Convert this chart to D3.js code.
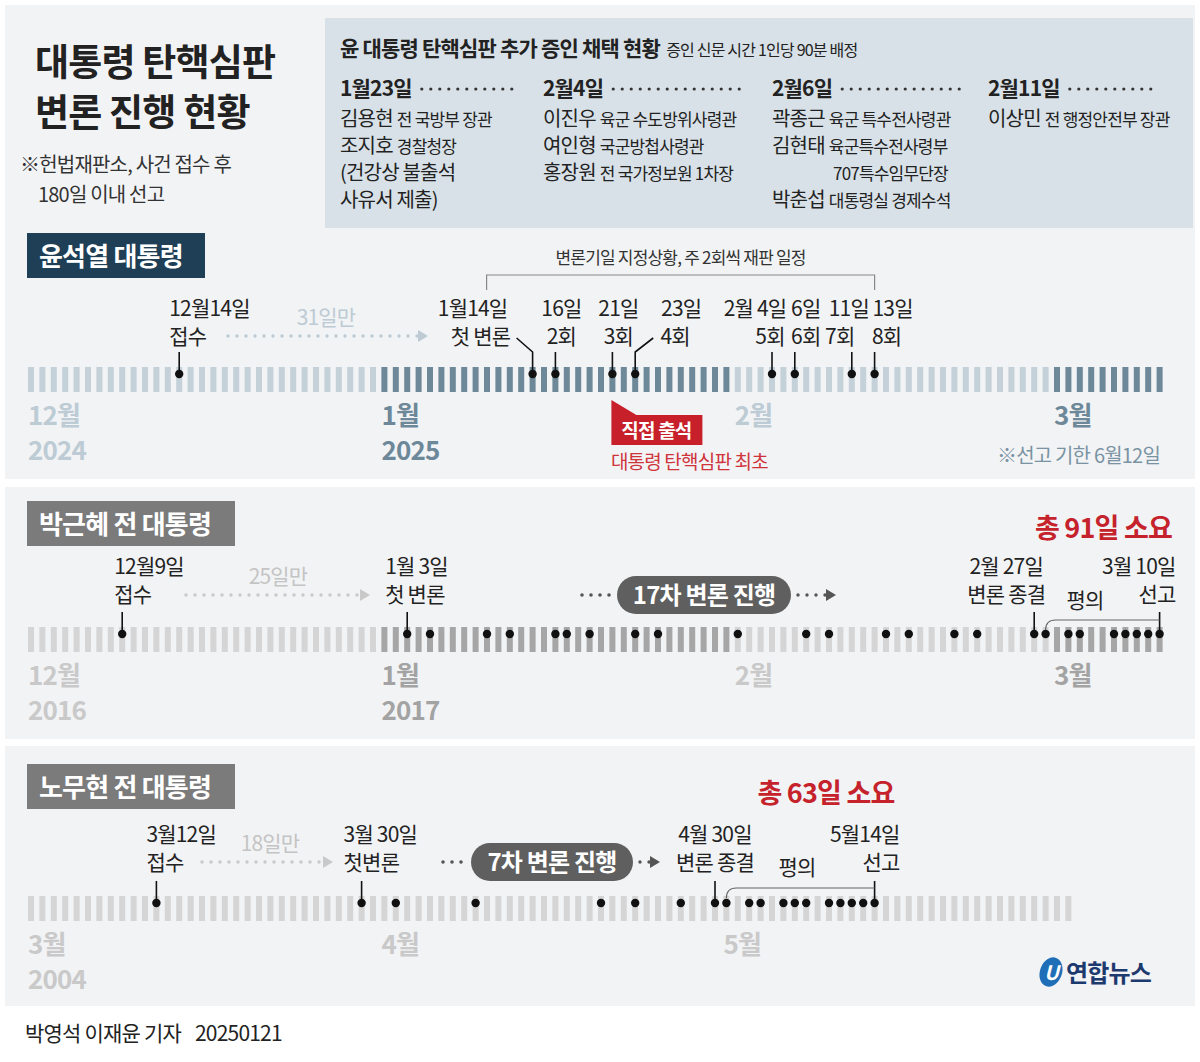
<!DOCTYPE html>
<html><head><meta charset="utf-8">
<script src="https://cdn.jsdelivr.net/npm/d3@7"></script>
<style>body{margin:0;background:#fff}svg{display:block;font-family:"Noto Sans CJK KR","Noto Sans",sans-serif;letter-spacing:-0.8px}</style>
</head><body><svg id="c" width="1200" height="1062"></svg>
<script>
// --- data ---
var yoonRange = ["2024-12-01", "2025-03-11"];
var yoonDots = ["2024-12-14","2025-01-14","2025-01-16","2025-01-21","2025-01-23","2025-02-04","2025-02-06","2025-02-11","2025-02-13"];
var yoonLabels = [
  {d:"2024-12-14", a:"12월14일", b:"접수", dx:-10, start:true},
  {d:"2025-01-14", a:"1월14일", b:"첫 변론", dx:-60, dxb:-52, slant:true},
  {d:"2025-01-16", a:"16일", b:"2회", dx:6},
  {d:"2025-01-21", a:"21일", b:"3회", dx:6},
  {d:"2025-01-23", a:"23일", b:"4회", dx:46, dxb:40, slant:true},
  {d:"2025-02-04", a:"2월 4일", b:"5회", dx:-17, dxb:-2},
  {d:"2025-02-06", a:"6일", b:"6회", dx:11},
  {d:"2025-02-11", a:"11일", b:"7회", dx:-3, dxb:-12},
  {d:"2025-02-13", a:"13일", b:"8회", dx:18, dxb:12}
];
var yoonMonths = [["2024-12-01","12월","2024"],["2025-01-01","1월","2025"],["2025-02-01","2월",""],["2025-03-01","3월",""]];

var parkRange = ["2016-12-01", "2017-03-11"];
var parkDots = ["2016-12-09","2017-01-03","2017-01-05","2017-01-10","2017-01-12","2017-01-16","2017-01-17","2017-01-19","2017-01-23","2017-01-25","2017-02-01","2017-02-07","2017-02-09","2017-02-14","2017-02-16","2017-02-20","2017-02-22","2017-02-27","2017-02-28","2017-03-02","2017-03-03","2017-03-06","2017-03-07","2017-03-08","2017-03-09","2017-03-10"];
var parkMonths = [["2016-12-01","12월","2016"],["2017-01-01","1월","2017"],["2017-02-01","2월",""],["2017-03-01","3월",""]];

var rohRange = ["2004-03-01", "2004-06-01"];
var rohDots = ["2004-03-12","2004-03-30","2004-04-02","2004-04-09","2004-04-20","2004-04-23","2004-04-27","2004-04-30","2004-05-01","2004-05-03","2004-05-04","2004-05-06","2004-05-07","2004-05-08","2004-05-10","2004-05-11","2004-05-12","2004-05-13","2004-05-14"];
var rohMonths = [["2004-03-01","3월","2004"],["2004-04-01","4월",""],["2004-05-01","5월",""]];

var witnessDates = ["1월23일","2월4일","2월6일","2월11일"];
var witnesses = [
  [["김용현","전 국방부 장관"],["조지호","경찰청장"],["(건강상 불출석",""],[" 사유서 제출)",""]],
  [["이진우","육군 수도방위사령관"],["여인형","국군방첩사령관"],["홍장원","전 국가정보원 1차장"]],
  [["곽종근","육군 특수전사령관"],["김현태","육군특수전사령부"],["","707특수임무단장"],["박춘섭","대통령실 경제수석"]],
  [["이상민","전 행정안전부 장관"]]
];

var svg = d3.select("#c");
var parse = d3.timeParse("%Y-%m-%d");
var PX = 11.4;

// backgrounds
svg.append("rect").attr("x",5).attr("y",5).attr("width",1190).attr("height",474).attr("fill","#f2f3f5");
svg.append("rect").attr("x",5).attr("y",487).attr("width",1190).attr("height",252).attr("fill","#f2f3f5");
svg.append("rect").attr("x",5).attr("y",746).attr("width",1190).attr("height",260).attr("fill","#f2f3f5");
svg.append("rect").attr("x",325).attr("y",18).attr("width",868).attr("height",210).attr("fill","#d8e1e7");

// title
svg.append("text").attr("x",35).attr("y",76).attr("font-size",37).attr("font-weight",700).attr("fill","#222").text("대통령 탄핵심판");
svg.append("text").attr("x",35).attr("y",126).attr("font-size",37).attr("font-weight",700).attr("fill","#222").text("변론 진행 현황");
svg.append("text").attr("x",20).attr("y",172).attr("font-size",20).attr("fill","#333").text("※헌법재판소, 사건 접수 후");
svg.append("text").attr("x",38).attr("y",202).attr("font-size",20).attr("fill","#333").text("180일 이내 선고");

// info box
svg.append("text").attr("x",340).attr("y",56).attr("font-size",21).attr("font-weight",700).attr("fill","#222")
  .text("윤 대통령 탄핵심판 추가 증인 채택 현황")
  .append("tspan").attr("dx",6).attr("font-size",16).attr("font-weight",400).text("증인 신문 시간 1인당 90분 배정");
var colX = [340, 543, 772, 988];
witnessDates.forEach(function(d,i){
  var t = svg.append("text").attr("x",colX[i]).attr("y",96).attr("font-size",21).attr("font-weight",700).attr("fill","#222").text(d);
  var w = t.node().getComputedTextLength();
  var end = i < 3 ? colX[i+1] - 28 : 1155;
  d3.range(colX[i]+w+10, end, 9).forEach(function(x){
    svg.append("circle").attr("cx",x).attr("cy",89).attr("r",1.6).attr("fill","#333");
  });
  witnesses[i].forEach(function(p,j){
    var tt = svg.append("text").attr("x",colX[i] + (p[0] ? 0 : 61)).attr("y",126+j*27).attr("font-size",20).attr("fill","#222").text(p[0]);
    tt.append("tspan").attr("dx",p[0]?4:0).attr("font-size",17).text(p[1]);
  });
});

function dotsArrow(x0,x1,y,col){
  d3.range(x0,x1-10,9).forEach(function(x){
    svg.append("circle").attr("cx",x).attr("cy",y).attr("r",1.7).attr("fill",col);
  });
  svg.append("path").attr("d","M"+(x1-10)+","+(y-6)+"L"+x1+","+y+"L"+(x1-10)+","+(y+6)+"Z").attr("fill",col);
}

function tagBox(x,y,w,txt,col){
  svg.append("rect").attr("x",x).attr("y",y).attr("width",w).attr("height",45).attr("fill",col);
  svg.append("text").attr("x",x+12).attr("y",y+33).attr("font-size",26).attr("font-weight",700).attr("fill","#fff").text(txt);
}

// timeline builder
function timeline(o){
  var x = d3.scaleTime().domain([parse(o.range[0]),parse(o.range[1])])
    .range([31, 31 + d3.timeDay.count(parse(o.range[0]),parse(o.range[1]))*PX]);
  var days = d3.timeDay.range(parse(o.range[0]),parse(o.range[1]));
  svg.append("g").selectAll("rect").data(days).join("rect")
    .attr("x",function(d){return x(d)-3;}).attr("y",o.y).attr("width",6).attr("height",25)
    .attr("fill",function(d){return d.getMonth()%2 === o.darkParity ? o.dark : o.light;});
  svg.append("g").selectAll("circle").data(o.dots.map(parse)).join("circle")
    .attr("cx",function(d){return x(d);}).attr("cy",o.y+7).attr("r",4.2).attr("fill","#111");
  o.months.forEach(function(m){
    var dark = parse(m[0]).getMonth()%2 === o.darkParity;
    var c = dark ? o.monthDark : o.monthLight;
    svg.append("text").attr("x",x(parse(m[0]))-3).attr("y",o.y+58).attr("font-size",26).attr("font-weight",700).attr("fill",c).text(m[1]);
    if(m[2]) svg.append("text").attr("x",x(parse(m[0]))-3).attr("y",o.y+93).attr("font-size",26).attr("font-weight",700).attr("fill",c).text(m[2]);
  });
  return x;
}

// ---- panel 1
tagBox(27,233,178,"윤석열 대통령","#1f3f56");
var x1 = timeline({range:yoonRange, dots:yoonDots, months:yoonMonths, y:367, darkParity:0,
  dark:"#6d8898", light:"#c4d1d9", monthDark:"#6d8898", monthLight:"#bccbd4"});
yoonLabels.forEach(function(l){
  var cx = x1(parse(l.d));
  var anc = l.start ? "start" : "middle";
  svg.append("text").attr("x",cx+l.dx).attr("y",316).attr("text-anchor",anc).attr("font-size",21).attr("fill","#222").text(l.a);
  svg.append("text").attr("x",cx+(l.dxb !== undefined ? l.dxb : l.dx)).attr("y",344).attr("text-anchor",anc).attr("font-size",21).attr("fill","#222").text(l.b);
  if(l.slant){
    var sx = l.dx < 0 ? cx-16 : cx+18;
    svg.append("path").attr("d","M"+sx+","+338+"L"+cx+","+352+"L"+cx+","+372).attr("fill","none").attr("stroke","#111").attr("stroke-width",1.6);
  } else {
    svg.append("line").attr("x1",cx).attr("x2",cx).attr("y1",352).attr("y2",372).attr("stroke","#111").attr("stroke-width",1.6);
  }
});
svg.append("text").attr("x",326).attr("y",325).attr("text-anchor","middle").attr("font-size",21).attr("fill","#bccbd4").text("31일만");
dotsArrow(228,428,336,"#bccbd4");
var b0 = x1(parse("2025-01-14"))-46, b1 = x1(parse("2025-02-13"));
svg.append("path").attr("d","M"+b0+",290V275H"+b1+"V290").attr("fill","none").attr("stroke","#888").attr("stroke-width",1.2);
svg.append("text").attr("x",(b0+b1)/2).attr("y",264).attr("text-anchor","middle").attr("font-size",17).attr("fill","#333").text("변론기일 지정상황, 주 2회씩 재판 일정");
var rx = x1(parse("2025-01-21"));
svg.append("path").attr("d","M"+(rx-1)+",400L"+(rx+24)+",415H"+(rx+90)+"V445H"+(rx-1)+"Z").attr("fill","#c8202a");
svg.append("text").attr("x",rx+44).attr("y",438).attr("text-anchor","middle").attr("font-size",19).attr("font-weight",700).attr("fill","#fff").text("직접 출석");
svg.append("text").attr("x",rx+77).attr("y",469).attr("text-anchor","middle").attr("font-size",19).attr("fill","#d0343b").text("대통령 탄핵심판 최초");
svg.append("text").attr("x",1160).attr("y",463).attr("text-anchor","end").attr("font-size",20).attr("fill","#7a93a3").text("※선고 기한 6월12일");

// ---- panel 2
tagBox(27,501,208,"박근혜 전 대통령","#7b7b7b");
var x2 = timeline({range:parkRange, dots:parkDots, months:parkMonths, y:627, darkParity:0,
  dark:"#a6a6a6", light:"#d5d5d5", monthDark:"#a3a3a3", monthLight:"#c9c9c9"});
function label2(x, y, a, b, anchor){
  svg.append("text").attr("x",x).attr("y",y).attr("text-anchor",anchor).attr("font-size",21).attr("fill","#222").text(a);
  if(b) svg.append("text").attr("x",x).attr("y",y+28).attr("text-anchor",anchor).attr("font-size",21).attr("fill","#222").text(b);
}
function stem(x, y0, y1){
  svg.append("line").attr("x1",x).attr("x2",x).attr("y1",y0).attr("y2",y1).attr("stroke","#111").attr("stroke-width",1.6);
}
var p0 = x2(parse("2016-12-09")), p1 = x2(parse("2017-01-03")), p2 = x2(parse("2017-02-27")), p3 = x2(parse("2017-03-10"));
label2(p0-8,574,"12월9일","접수","start"); stem(p0,612,632);
label2(p1-22,574,"1월 3일","첫 변론","start"); stem(p1,612,632);
label2(p2-28,574,"2월 27일","변론 종결","middle"); stem(p2,612,632);
label2(p3+16,574,"3월 10일","","end"); stem(p3,612,632);
svg.append("text").attr("x",p3+16).attr("y",602).attr("text-anchor","end").attr("font-size",21).attr("fill","#222").text("선고");
svg.append("text").attr("x",1085).attr("y",608).attr("text-anchor","middle").attr("font-size",21).attr("fill","#222").text("평의");
var q0 = x2(parse("2017-02-28"));
svg.append("path").attr("d","M"+q0+",630Q"+q0+",620 "+(q0+10)+",620H"+p3).attr("fill","none").attr("stroke","#666").attr("stroke-width",1.2);
svg.append("text").attr("x",1172).attr("y",538).attr("text-anchor","end").attr("font-size",27).attr("font-weight",700).attr("fill","#c5222b").text("총 91일 소요");
svg.append("text").attr("x",278).attr("y",584).attr("text-anchor","middle").attr("font-size",21).attr("fill","#c4c4c4").text("25일만");
dotsArrow(186,370,595,"#c9c9c9");
d3.range(582,610,9).forEach(function(x){svg.append("circle").attr("cx",x).attr("cy",595).attr("r",1.8).attr("fill","#555");});
svg.append("rect").attr("x",617).attr("y",576).attr("width",174).attr("height",38).attr("rx",19).attr("fill","#5f5f5f");
svg.append("text").attr("x",704).attr("y",604).attr("text-anchor","middle").attr("font-size",24).attr("font-weight",700).attr("fill","#fff").text("17차 변론 진행");
dotsArrow(798,836,595,"#555");

// ---- panel 3
tagBox(27,764,208,"노무현 전 대통령","#7b7b7b");
var x3 = timeline({range:rohRange, dots:rohDots, months:rohMonths, y:896, darkParity:3,
  dark:"#a6a6a6", light:"#d5d5d5", monthDark:"#a3a3a3", monthLight:"#c9c9c9"});
var r0 = x3(parse("2004-03-12")), r1 = x3(parse("2004-03-30")), r2 = x3(parse("2004-04-30")), r3 = x3(parse("2004-05-14")), r4 = x3(parse("2004-05-01"));
label2(r0-10,842,"3월12일","접수","start"); stem(r0,881,901);
label2(r1-18,842,"3월 30일","첫변론","start"); stem(r1,881,901);
label2(r2,842,"4월 30일","변론 종결","middle"); stem(r2,881,901);
svg.append("text").attr("x",r3+25).attr("y",842).attr("text-anchor","end").attr("font-size",21).attr("fill","#222").text("5월14일");
svg.append("text").attr("x",r3+25).attr("y",870).attr("text-anchor","end").attr("font-size",21).attr("fill","#222").text("선고");
stem(r3,881,901);
svg.append("text").attr("x",797).attr("y",875).attr("text-anchor","middle").attr("font-size",21).attr("fill","#222").text("평의");
svg.append("path").attr("d","M"+r4+",898Q"+r4+",888 "+(r4+10)+",888H"+r3).attr("fill","none").attr("stroke","#666").attr("stroke-width",1.2);
svg.append("text").attr("x",826).attr("y",803).attr("text-anchor","middle").attr("font-size",27).attr("font-weight",700).attr("fill","#c5222b").text("총 63일 소요");
svg.append("text").attr("x",270).attr("y",851).attr("text-anchor","middle").attr("font-size",21).attr("fill","#c4c4c4").text("18일만");
dotsArrow(202,333,862,"#c9c9c9");
d3.range(443,468,9).forEach(function(x){svg.append("circle").attr("cx",x).attr("cy",862).attr("r",1.8).attr("fill","#555");});
svg.append("rect").attr("x",471).attr("y",843).attr("width",162).attr("height",38).attr("rx",19).attr("fill","#5f5f5f");
svg.append("text").attr("x",552).attr("y",871).attr("text-anchor","middle").attr("font-size",24).attr("font-weight",700).attr("fill","#fff").text("7차 변론 진행");
dotsArrow(640,660,862,"#555");

// logo
svg.append("ellipse").attr("cx",1051).attr("cy",972).attr("rx",11).attr("ry",15).attr("transform","rotate(20,1051,972)").attr("fill","#1f6fb8");
svg.append("text").attr("x",1051).attr("y",980).attr("text-anchor","middle").attr("font-size",20).attr("font-weight",700).attr("font-style","italic").attr("fill","#fff").text("U");
svg.append("text").attr("x",1066).attr("y",982).attr("font-size",24).attr("font-weight",700).attr("fill","#1d3a6e").text("연합뉴스");

// footer
svg.append("text").attr("x",25).attr("y",1041).attr("font-size",21).attr("fill","#222").text("박영석 이재윤 기자")
  .append("tspan").attr("dx",14).text("20250121");
</script></body></html>
